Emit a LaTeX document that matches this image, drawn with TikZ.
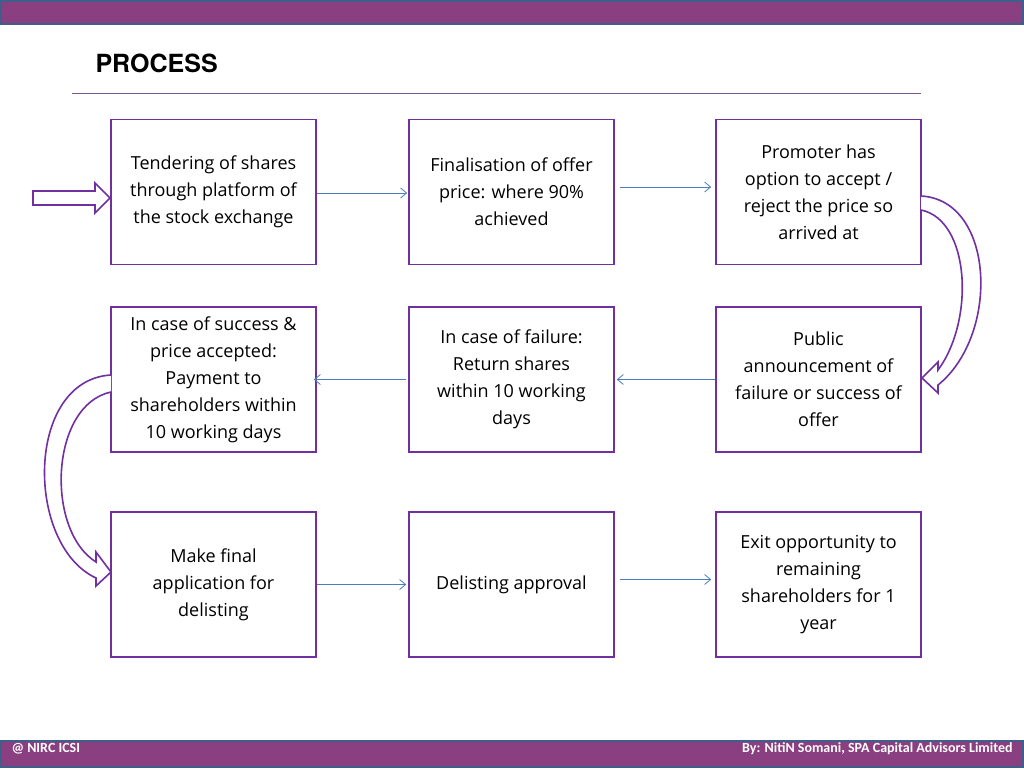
\documentclass[tikz,border=0pt]{standalone}
\usepackage{fontspec}
\setmainfont{Open Sans}
\newfontfamily\footfont{Carlito}
\newfontfamily\titlefont{TeX Gyre Heros}
\usetikzlibrary{arrows.meta}
\definecolor{barpurple}{HTML}{8A3F80}
\definecolor{barblue}{HTML}{3F5F8A}
\definecolor{boxpurple}{HTML}{7030A0}
\definecolor{arrblue}{HTML}{4A7EBB}
\begin{document}
\begin{tikzpicture}[x=1pt,y=-1pt,
  stepbox/.style={draw=boxpurple,line width=1.6pt,minimum width=205pt,minimum height=145pt,align=center,font=\fontsize{18}{27}\selectfont},
  flow/.style={draw=arrblue,line width=0.8pt,-{Straight Barb[length=6pt,width=10pt]}},
  band/.style={draw=boxpurple,line width=1.6pt,fill=white,line join=miter}]
\useasboundingbox (0,0) rectangle (1024,768);
\fill[white] (0,0) rectangle (1024,768);
\draw[fill=barpurple,draw=barblue,line width=2pt] (1,1) rectangle (1023,24);
\draw[fill=barpurple,draw=barblue,line width=2pt] (1,741) rectangle (1023,767);
\node[anchor=west,text=white,font=\footfont\fontsize{14}{16}\selectfont\bfseries] (foot1) at (8,749) {@ NIRC ICSI};
\node[anchor=east,text=white,font=\footfont\fontsize{14}{16}\selectfont\bfseries] (foot2) at (1016,749) {By: NitiN Somani, SPA Capital Advisors Limited};
\node[anchor=west,font=\titlefont\fontsize{25}{28}\selectfont\bfseries] (title) at (92,63) {PROCESS};
\draw[color=boxpurple!50!gray,line width=0.8pt] (72,93) -- (921,93);

\node[stepbox] (a1) at (213.5,192) {Tendering of shares\\through platform of\\the stock exchange};
\node[stepbox] (a2) at (511.5,192) {Finalisation of offer\\price: where 90\%\\achieved};
\node[stepbox] (a3) at (818.5,192) {Promoter has\\option to accept /\\reject the price so\\arrived at};
\node[stepbox] (b1) at (213.5,379.5) {In case of success \&\\price accepted:\\Payment to\\shareholders within\\10 working days};
\node[stepbox] (b2) at (511.5,379.5) {In case of failure:\\Return shares\\within 10 working\\days};
\node[stepbox] (b3) at (818.5,379.5) {Public\\announcement of\\failure or success of\\offer};
\node[stepbox] (c1) at (213.5,584.5) {Make final\\application for\\delisting};
\node[stepbox] (c2) at (511.5,584.5) {Delisting approval};
\node[stepbox] (c3) at (818.5,584.5) {Exit opportunity to\\remaining\\shareholders for 1\\year};

\draw[flow] ([yshift=-1pt]a1.east) -- ([xshift=-1pt,yshift=-1pt]a2.west);
\draw[flow] ([xshift=5pt,yshift=5pt]a2.east) -- ([xshift=-4pt,yshift=5pt]a3.west);
\draw[flow] (b3.west) -- ([xshift=2pt]b2.east);
\draw[flow] ([xshift=-2pt]b2.west) -- ([xshift=-3pt]b1.east);
\draw[flow] (c1.east) -- ([xshift=-2pt]c2.west);
\draw[flow] ([xshift=5pt,yshift=5pt]c2.east) -- ([xshift=-4pt,yshift=5pt]c3.west);

% entry arrow
\draw[band] (33,191) -- (95,191) -- (95,183) -- (110,198) -- (95,213) -- (95,205) -- (33,205) -- cycle;
% right curved arrow
\draw[band] (921,196) .. controls (995,200) and (1000,335) .. (938,385) -- (938,393) -- (922,378) -- (938,362) -- (938,370) .. controls (975,320) and (970,220) .. (921,210);
% left curved arrow
\draw[band] (111,375) .. controls (25,380) and (25,545) .. (96,578) -- (96,586) -- (111,572) -- (96,552) -- (96,562) .. controls (45,530) and (50,405) .. (111,392);
\end{tikzpicture}
\end{document}
